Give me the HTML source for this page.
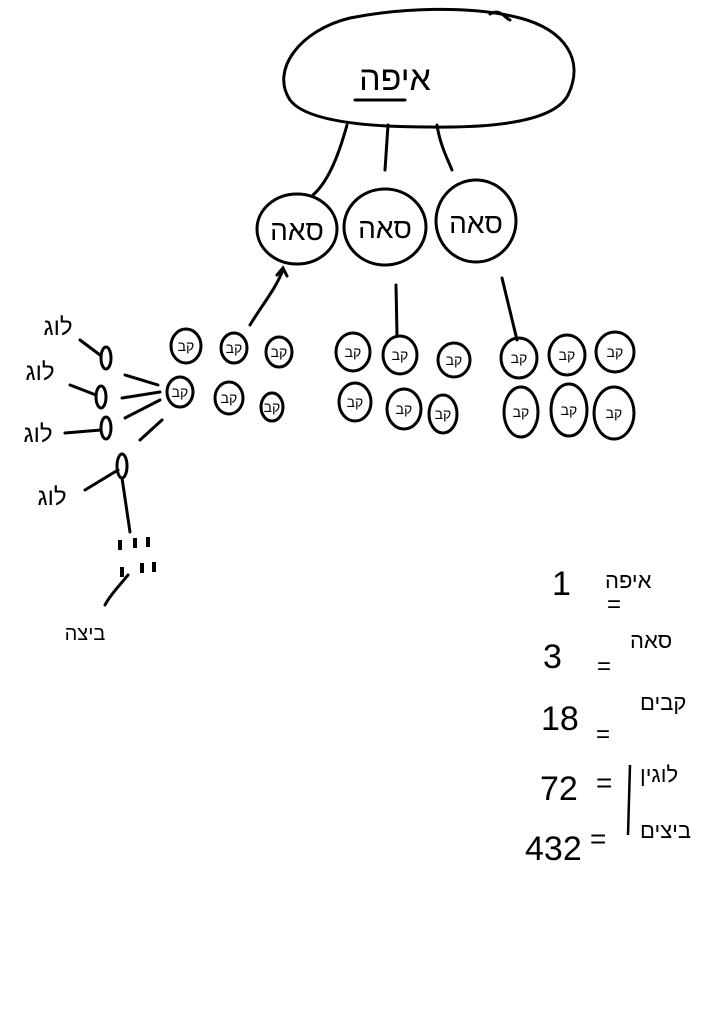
<!DOCTYPE html>
<html><head><meta charset="utf-8"><style>
html,body{margin:0;padding:0;background:#fff;}
svg{display:block}
text{font-family:"Liberation Sans","Noto Sans CJK SC",sans-serif;fill:#000;}
</style></head><body>
<svg width="715" height="1023" viewBox="0 0 715 1023" xmlns="http://www.w3.org/2000/svg">
<g fill="none" stroke="#000" stroke-width="3" stroke-linecap="round">
<!-- cloud -->
<path d="M290,100 C270,70 300,30 350,18 C400,8 470,5 520,18 C565,30 585,60 568,95 C555,120 500,128 430,127 C360,127 305,120 290,100 Z"/>
<path d="M490,14 C500,8 505,18 510,20"/>
<path d="M355,100 L405,100"/>
<!-- lines to seah -->
<path d="M347,125 C340,150 330,180 313,195"/>
<path d="M388,125 L385,170"/>
<path d="M437,125 C440,145 448,160 452,170"/>
<!-- seah circles -->
<ellipse cx="297" cy="229" rx="40" ry="35"/>
<ellipse cx="385" cy="227" rx="41" ry="38"/>
<ellipse cx="476" cy="221" rx="40" ry="41"/>
<!-- connectors -->
<path d="M250,325 C262,305 275,290 283,270"/>
<path d="M277,275 L283,268 L287,276"/>
<path d="M396,285 L397,336"/>
<path d="M502,278 L517,340"/>
<!-- small circles group1 -->
<ellipse cx="186" cy="346" rx="15" ry="17"/>
<ellipse cx="234" cy="348" rx="13" ry="15"/>
<ellipse cx="279" cy="352" rx="13" ry="15"/>
<ellipse cx="180" cy="392" rx="13" ry="15"/>
<ellipse cx="229" cy="398" rx="14" ry="16"/>
<ellipse cx="272" cy="407" rx="11" ry="14"/>
<!-- group2 -->
<ellipse cx="353" cy="352" rx="17" ry="19"/>
<ellipse cx="400" cy="355" rx="17" ry="19"/>
<ellipse cx="454" cy="360" rx="16" ry="17"/>
<ellipse cx="355" cy="402" rx="16" ry="19"/>
<ellipse cx="404" cy="409" rx="17" ry="20"/>
<ellipse cx="443" cy="414" rx="14" ry="19"/>
<!-- group3 -->
<ellipse cx="519" cy="358" rx="18" ry="20"/>
<ellipse cx="567" cy="355" rx="18" ry="20"/>
<ellipse cx="615" cy="352" rx="19" ry="20"/>
<ellipse cx="521" cy="412" rx="17" ry="25"/>
<ellipse cx="569" cy="410" rx="18" ry="26"/>
<ellipse cx="614" cy="413" rx="20" ry="26"/>
<!-- left log ellipses -->
<ellipse cx="106" cy="358" rx="5" ry="11"/>
<ellipse cx="101" cy="397" rx="5" ry="11"/>
<ellipse cx="106" cy="428" rx="5" ry="11"/>
<ellipse cx="122" cy="466" rx="5" ry="12"/>
<path d="M80,340 L100,355"/>
<path d="M70,385 L96,395"/>
<path d="M65,433 L101,430"/>
<path d="M85,490 L118,470"/>
<path d="M125,375 L158,385"/>
<path d="M122,398 L160,392"/>
<path d="M125,418 L160,400"/>
<path d="M140,440 L162,420"/>
<path d="M122,478 L130,532"/>
<path d="M128,575 C120,585 110,595 105,605"/>
</g>
<!-- dots -->
<g fill="#000">
<rect x="118" y="540" width="4" height="10"/><rect x="133" y="538" width="4" height="10"/><rect x="146" y="537" width="4" height="10"/>
<rect x="120" y="567" width="4" height="10"/><rect x="140" y="563" width="4" height="10"/><rect x="152" y="562" width="4" height="10"/>
</g>
<!-- labels -->
<text x="395" y="90" font-size="34" text-anchor="middle">איפה</text>
<text x="297" y="240" font-size="28" text-anchor="middle">סאה</text>
<text x="385" y="238" font-size="28" text-anchor="middle">סאה</text>
<text x="476" y="233" font-size="28" text-anchor="middle">סאה</text>
<g font-size="14" text-anchor="middle">
<text x="186" y="351">קב</text><text x="234" y="353">קב</text><text x="279" y="357">קב</text>
<text x="180" y="397">קב</text><text x="229" y="403">קב</text><text x="272" y="412">קב</text>
<text x="353" y="357">קב</text><text x="400" y="360">קב</text><text x="454" y="365">קב</text>
<text x="355" y="407">קב</text><text x="404" y="414">קב</text><text x="443" y="419">קב</text>
<text x="519" y="363">קב</text><text x="567" y="360">קב</text><text x="615" y="357">קב</text>
<text x="521" y="417">קב</text><text x="569" y="415">קב</text><text x="614" y="418">קב</text>
</g>
<g font-size="24" text-anchor="middle">
<text x="58" y="335">לוג</text>
<text x="40" y="380">לוג</text>
<text x="38" y="442">לוג</text>
<text x="52" y="505">לוג</text>
</g>
<text x="85" y="640" font-size="20" text-anchor="middle">ביצה</text>
<!-- right equations -->
<g font-size="34">
<text x="552" y="595">1</text>
<text x="543" y="668">3</text>
<text x="541" y="730">18</text>
<text x="540" y="800">72</text>
<text x="525" y="860">432</text>
<text x="596" y="792" font-size="28">=</text>
<text x="590" y="848" font-size="28">=</text>
</g>
<g font-size="22">
<text x="605" y="588">איפה</text>
<text x="630" y="648">סאה</text>
<text x="640" y="710">קבים</text>
<text x="640" y="782">לוגין</text>
<text x="640" y="838">ביצים</text>
</g>
<g font-size="24">
<text x="607" y="612">=</text>
<text x="597" y="674">=</text>
<text x="596" y="742">=</text>
</g>
<path d="M630,765 L628,835" fill="none" stroke="#000" stroke-width="2.5"/>
</svg>
</body></html>
